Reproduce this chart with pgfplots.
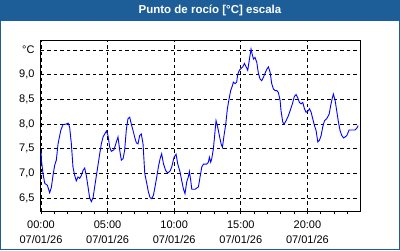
\documentclass[border=0pt]{standalone}
\usepackage{fontspec}
\setmainfont{Liberation Sans}
\usepackage{pgfplots}
\pgfplotsset{compat=1.18}
\definecolor{titleblue}{RGB}{30,94,152}
\definecolor{lineblue}{RGB}{0,0,255}
\begin{document}
\begin{tikzpicture}[x=1pt,y=1pt]
\useasboundingbox (0,0) rectangle (400,250);
\fill[white] (0,0) rectangle (400,250);
\fill[titleblue] (0,229.5) rectangle (400,250);
\draw[titleblue, line width=1.2pt] (0.6,0.6) rectangle (399.4,249.4);
\node[white, font=\fontsize{11.5}{13}\selectfont\bfseries] at (210,240) {Punto de rocío [°C] escala};
\begin{axis}[
  at={(41pt,39pt)}, anchor=south west,
  scale only axis, width=319.7pt, height=170.3pt,
  xmin=0, xmax=24, ymin=6.24, ymax=9.69,
  axis line style={black, line width=1pt},
  grid=major,
  major grid style={black, line width=0.8pt, dash pattern=on 3.5pt off 3pt},
  tick pos=left,
  tick align=outside,
  xtick={0,5,10,15,20},
  minor xtick={1,2,3,4,6,7,8,9,11,12,13,14,16,17,18,19,21,22,23},
  xticklabels={{00:00\\07/01/26},{05:00\\07/01/26},{10:00\\07/01/26},{15:00\\07/01/26},{20:00\\07/01/26}},
  xticklabel style={align=center, font=\fontsize{11}{15}\selectfont, yshift=-3.5pt},
  x tick style={black, line width=0.8pt},
  major tick length=3pt, minor tick length=3pt,
  ytick={6.5,7.0,7.5,8.0,8.5,9.0,9.5},
  yticklabels={{6,5},{7,0},{7,5},{8,0},{8,5},{9,0},{°C}},
  yticklabel style={font=\fontsize{11}{13}\selectfont},
  y tick style={draw=none},
]
\addplot[lineblue, line width=0.9pt] coordinates {
(0,7.47) (0.03,7.27) (0.15,7.0) (0.28,6.80) (0.48,6.76) (0.65,6.61) (0.78,6.72) (0.90,6.96)
(1.03,7.17) (1.15,7.27) (1.28,7.60) (1.48,7.87) (1.65,7.99) (1.90,8.00) (2.03,8.02) (2.15,7.94)
(2.28,7.60) (2.40,7.13) (2.53,6.96) (2.65,6.85) (2.78,6.93) (2.90,6.90) (3.03,6.96) (3.15,7.06)
(3.28,7.11) (3.40,6.96) (3.53,6.73) (3.65,6.51) (3.78,6.43) (3.91,6.51) (4.03,6.73) (4.16,6.96)
(4.28,7.17) (4.41,7.40) (4.53,7.60) (4.66,7.74) (4.78,7.80) (4.91,7.86) (5.03,7.77) (5.16,7.53)
(5.28,7.45) (5.48,7.48) (5.66,7.64) (5.78,7.74) (5.91,7.47) (6.03,7.27) (6.16,7.30) (6.28,7.47)
(6.41,7.90) (6.53,8.11) (6.66,8.14) (6.78,8.00) (6.91,7.87) (7.03,7.74) (7.16,7.62) (7.28,7.60)
(7.41,7.77) (7.53,7.80) (7.66,7.60) (7.79,7.00) (7.94,6.80) (8.06,6.63) (8.19,6.51) (8.31,6.49)
(8.44,6.56) (8.56,6.73) (8.69,6.93) (8.81,7.13) (8.94,7.30) (9.06,7.40) (9.19,7.20) (9.36,7.06)
(9.51,7.01) (9.69,7.05) (9.81,7.13) (9.99,7.33) (10.14,7.39) (10.26,7.20) (10.44,7.03) (10.56,6.86)
(10.69,6.69) (10.81,6.59) (10.94,6.83) (11.06,6.93) (11.14,7.04) (11.24,6.86) (11.32,6.68) (11.57,6.68)
(11.82,6.73) (11.94,6.93) (12.07,7.13) (12.19,7.19) (12.44,7.19) (12.57,7.23) (12.64,7.33) (12.74,7.23)
(12.82,7.30) (12.94,7.50) (13.07,7.87) (13.14,8.07) (13.24,7.97) (13.39,7.77) (13.52,7.60) (13.62,7.53)
(13.74,7.77) (13.87,8.00) (13.99,8.31) (14.12,8.51) (14.24,8.68) (14.37,8.78) (14.44,8.85) (14.57,8.82)
(14.69,8.85) (14.77,9.01) (14.89,9.09) (15.02,9.13) (15.15,9.16) (15.27,9.23) (15.40,9.16) (15.52,9.09)
(15.65,9.32) (15.77,9.52) (15.85,9.42) (15.95,9.32) (16.07,9.35) (16.20,9.25) (16.32,9.03) (16.45,8.91)
(16.57,8.88) (16.70,8.95) (16.82,9.03) (16.95,9.11) (17.07,9.16) (17.20,9.05) (17.32,8.82) (17.45,8.71)
(17.57,8.68) (17.70,8.68) (17.82,8.64) (17.95,8.48) (18.02,8.27) (18.15,8.04) (18.25,8.00) (18.40,8.07)
(18.57,8.17) (18.70,8.27) (18.87,8.41) (19.02,8.56) (19.15,8.60) (19.28,8.53) (19.40,8.44) (19.53,8.41)
(19.65,8.44) (19.78,8.31) (19.90,8.24) (20.03,8.26) (20.15,8.31) (20.28,8.24) (20.40,8.11) (20.53,7.97)
(20.65,7.87) (20.78,7.64) (20.90,7.67) (21.03,7.77) (21.15,7.94) (21.28,8.07) (21.45,8.11) (21.63,8.20)
(21.75,8.38) (21.88,8.54) (21.95,8.61) (22.08,8.48) (22.20,8.27) (22.33,8.04) (22.45,7.87) (22.58,7.77)
(22.71,7.72) (22.83,7.74) (22.96,7.77) (23.13,7.88) (23.33,7.88) (23.58,7.88) (23.71,7.92) (23.81,7.97)
};
\end{axis}
\end{tikzpicture}
\end{document}
